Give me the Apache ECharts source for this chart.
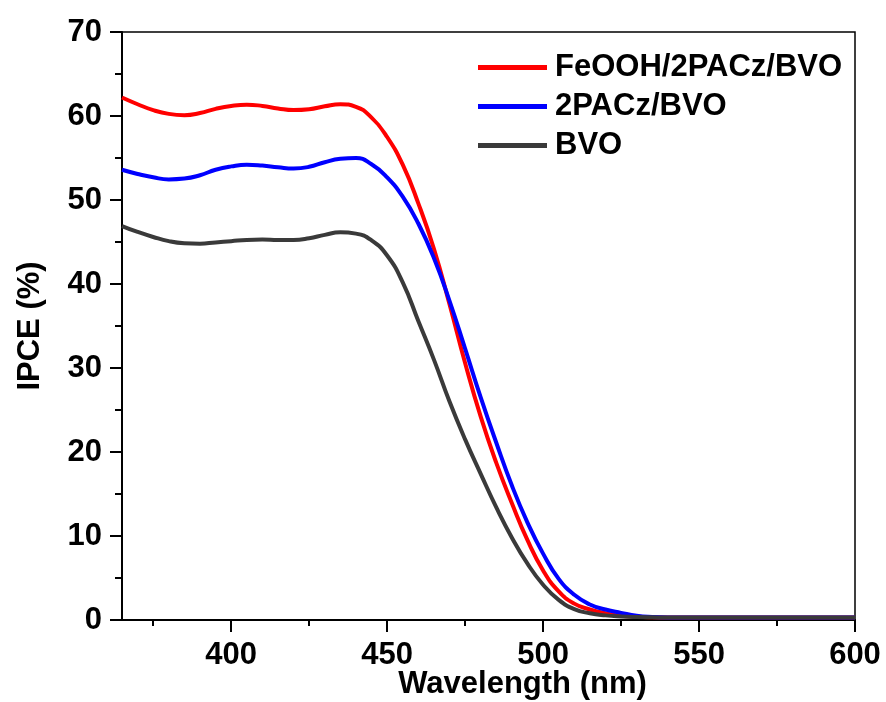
<!DOCTYPE html>
<html>
<head>
<meta charset="utf-8">
<script src="https://cdn.jsdelivr.net/npm/echarts@6/dist/echarts.min.js"></script>
<style>
html,body{margin:0;padding:0;background:#fff;}
#chart{width:886px;height:702px;}
</style>
</head>
<body>
<div id="chart"></div>
<script>
const wavelengths = [365,370,375,380,385,390,395,400,405,410,415,420,425,430,435,440,445,450,455,460,465,470,475,480,485,490,495,500,505,510,515,520,525,530,535,540,545,550,555,560,565,570,575,580,585,590,595,600];
const feoohPacBvo = [62.2,61.4,60.7,60.25,60.1,60.35,60.85,61.2,61.35,61.2,60.9,60.7,60.8,61.15,61.4,61.1,59.8,57.5,54.2,49.6,44.2,37.6,30.6,24.2,18.7,13.9,9.5,5.9,3.4,1.95,1.25,0.8,0.5,0.38,0.32,0.3,0.3,0.3,0.3,0.3,0.3,0.3,0.3,0.3,0.3,0.3,0.3,0.3];
const pacBvo = [53.6,53.1,52.7,52.45,52.55,52.95,53.6,54.0,54.2,54.1,53.9,53.75,53.95,54.5,54.9,55.0,54.25,52.7,50.4,47.2,43.1,38.0,32.3,26.5,21.1,16.0,11.6,7.9,4.9,3.0,1.85,1.25,0.85,0.5,0.35,0.3,0.3,0.3,0.3,0.3,0.3,0.3,0.3,0.3,0.3,0.3,0.3,0.3];
const bvo = [46.9,46.2,45.6,45.1,44.85,44.8,44.95,45.1,45.25,45.3,45.25,45.25,45.45,45.85,46.15,46.0,45.2,43.4,40.2,35.6,31.0,26.0,21.5,17.4,13.4,9.8,6.7,4.2,2.4,1.3,0.8,0.55,0.42,0.35,0.32,0.3,0.3,0.3,0.3,0.3,0.3,0.3,0.3,0.3,0.3,0.3,0.3,0.3];
const seriesNames = ['FeOOH/2PACz/BVO','2PACz/BVO','BVO'];
const seriesColors = ['#ff0000','#0000ff','#3a3a3a'];
const xMajorTicks = [400,450,500,550,600];
const xMinorTicks = [375,425,475,525,575];

const FONT = '"Liberation Sans", Arial, sans-serif';
const FS = 31;
const pairs = arr => wavelengths.map((w,i)=>[w,arr[i]]);
const allData = [feoohPacBvo, pacBvo, bvo];

const chart = echarts.init(document.getElementById('chart'), null, {renderer:'canvas'});
chart.setOption({
  animation:false,
  backgroundColor:'#fff',
  grid:{left:122,right:31,top:32,bottom:82,containLabel:false,outerBoundsMode:'none',
        show:true,borderColor:'#000',borderWidth:1.5,backgroundColor:'transparent'},
  legend:{
    orient:'vertical', left:478, top:52, padding:0, itemGap:8, itemWidth:69, itemHeight:5, icon:'rect',
    textStyle:{fontFamily:FONT,fontWeight:'bold',fontSize:FS,color:'#000',padding:[0,0,0,3]},
    data:seriesNames
  },
  xAxis:[{
    type:'value', min:365, max:600, position:'bottom',
    name:'Wavelength (nm)', nameLocation:'middle', nameGap:49, nameMoveOverlap:false,
    nameTextStyle:{fontFamily:FONT,fontWeight:'bold',fontSize:FS,color:'#000',padding:[0,0,0,68]},
    axisLine:{show:true,lineStyle:{color:'#000',width:2}},
    axisTick:{show:true,inside:false,length:12,lineStyle:{color:'#000',width:2},customValues:xMajorTicks},
    axisLabel:{show:true,margin:20,fontFamily:FONT,fontWeight:'bold',fontSize:FS,color:'#000',customValues:xMajorTicks},
    splitLine:{show:false}
  },{
    type:'value', min:365, max:600, position:'bottom',
    axisLine:{show:false},
    axisTick:{show:true,inside:false,length:6,lineStyle:{color:'#000',width:2},customValues:xMinorTicks},
    axisLabel:{show:false},
    splitLine:{show:false}
  }],
  yAxis:{
    type:'value', min:0, max:70, interval:10,
    name:'IPCE (%)', nameLocation:'middle', nameGap:76, nameMoveOverlap:false,
    nameTextStyle:{fontFamily:FONT,fontWeight:'bold',fontSize:FS,color:'#000'},
    axisLine:{show:true,lineStyle:{color:'#000',width:2}},
    axisTick:{show:true,inside:false,length:12,lineStyle:{color:'#000',width:2}},
    minorTick:{show:true,splitNumber:2,length:7,lineStyle:{color:'#000',width:2}},
    axisLabel:{margin:20,fontFamily:FONT,fontWeight:'bold',fontSize:FS,color:'#000'},
    splitLine:{show:false}
  },
  series: seriesNames.map((n,i)=>({
    name:n, type:'line', xAxisIndex:0, data:pairs(allData[i]), showSymbol:false, symbol:'none',
    smooth:0.5,
    lineStyle:{color:seriesColors[i],width:4},
    itemStyle:{color:seriesColors[i]}
  }))
});
</script>
</body>
</html>
